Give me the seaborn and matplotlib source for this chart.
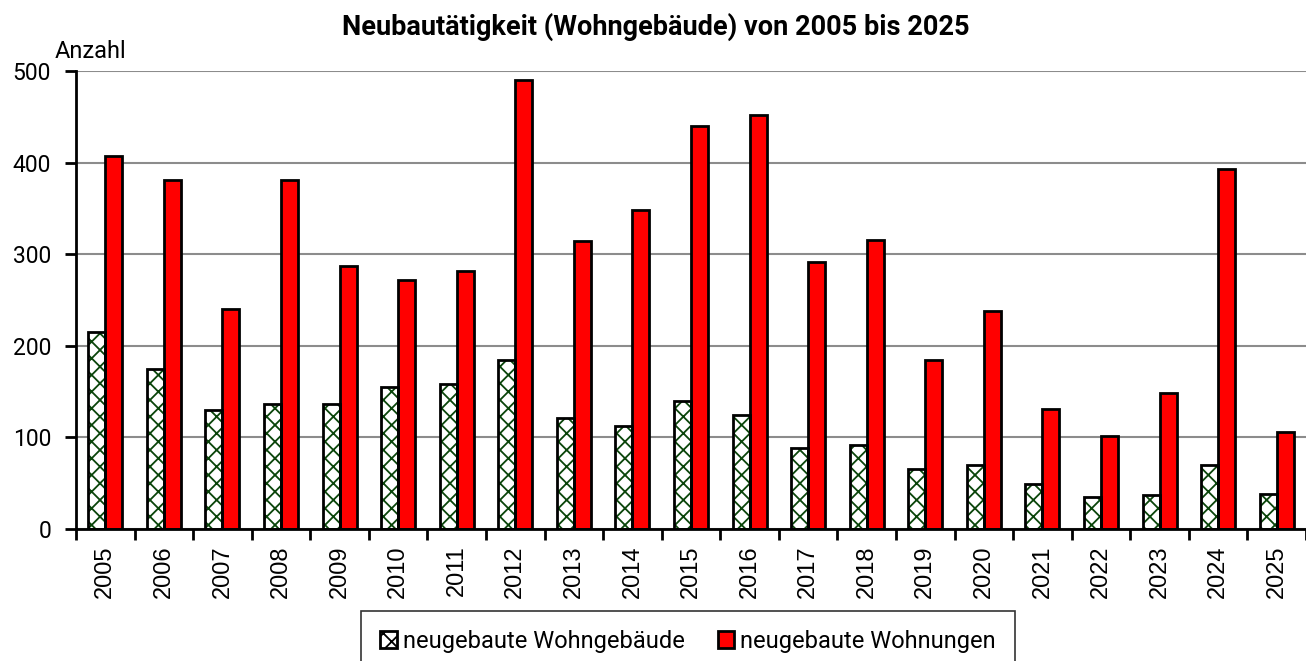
import numpy as np
import pandas as pd
import seaborn as sns
import matplotlib
matplotlib.use("Agg")
import matplotlib.pyplot as plt
from matplotlib.patches import Rectangle, Patch

years = [str(y) for y in range(2005, 2026)]
gebaeude = [215, 175, 130, 137, 137, 155, 158, 184, 121, 112, 140,
            124, 88, 92, 65, 70, 49, 35, 37, 70, 38]
wohnungen = [407, 381, 240, 381, 287, 272, 282, 490, 314, 348, 440,
             452, 291, 315, 184, 238, 131, 101, 148, 393, 106]
series = ["neugebaute Wohngebäude", "neugebaute Wohnungen"]

df = pd.DataFrame({
    "Jahr": years * 2,
    "Anzahl": gebaeude + wohnungen,
    "Serie": [series[0]] * len(years) + [series[1]] * len(years),
})

sns.set_theme(style="white")
plt.rcParams["font.family"] = ["Roboto", "DejaVu Sans"]
plt.rcParams["text.color"] = "black"
plt.rcParams["xtick.color"] = "black"
plt.rcParams["ytick.color"] = "black"
plt.rcParams["hatch.linewidth"] = 1.3

fig = plt.figure(figsize=(13.06, 6.61), dpi=100)
ax = fig.add_axes([76 / 1306, 1 - 529 / 661, 1 - 76 / 1306, (529 - 71) / 661])

sns.barplot(data=df, x="Jahr", y="Anzahl", hue="Serie", order=years,
            hue_order=series, palette=["white", "#ff0000"], saturation=1,
            width=0.58, edgecolor="black", linewidth=2, legend=False, ax=ax)

# hatched green bars: hatch in dark green, outline in black on top
for p in ax.containers[0]:
    p.set_edgecolor("#0a450a")
    p.set_linewidth(0)
    p.set_hatch("xx")
    ax.add_patch(Rectangle(p.get_xy(), p.get_width(), p.get_height(),
                           fill=False, edgecolor="black", linewidth=2, zorder=3))

ax.set_xlim(-0.5, len(years) - 0.5)
ax.set_ylim(0, 500)
ax.set_yticks([0, 100, 200, 300, 400, 500])
ax.yaxis.grid(True, color="#8c8c8c", linewidth=1.5)
ax.set_axisbelow(True)
for s in ["top", "right"]:
    ax.spines[s].set_visible(False)
for s in ["left", "bottom"]:
    ax.spines[s].set_color("black")
    ax.spines[s].set_linewidth(2)

ax.set_xticks(np.arange(-0.5, len(years), 1.0), minor=True)
ax.tick_params(axis="x", which="major", length=0, pad=12, labelsize=17,
               rotation=90)
ax.tick_params(axis="x", which="minor", length=8, width=2, color="black",
               direction="out", bottom=True)
ax.tick_params(axis="y", length=8, width=2, color="black", direction="out",
               left=True, labelsize=16.5, pad=10)
for lbl in ax.get_xticklabels():
    lbl.set_family(["Liberation Sans", "DejaVu Sans"])
ax.set_xlabel("")
ax.set_ylabel("")

fig.text(55 / 1306, 1 - 52 / 661, "Anzahl", fontsize=17, va="center", ha="left")
fig.text(656 / 1306, 1 - 27 / 661, "Neubautätigkeit (Wohngebäude) von 2005 bis 2025",
         fontsize=19.5, fontweight="bold", ha="center", va="center")

handles = [Patch(facecolor="white", edgecolor="black", hatch="xx", linewidth=2),
           Patch(facecolor="#ff0000", edgecolor="black", linewidth=2)]
leg = fig.legend(handles, series, ncol=2, loc="lower center",
                 bbox_to_anchor=(688 / 1306, -0.016), fontsize=17,
                 frameon=True, fancybox=False, edgecolor="black",
                 handlelength=0.7, handleheight=0.7, handletextpad=0.25,
                 columnspacing=1.4, borderpad=0.8, borderaxespad=0)
leg.get_frame().set_linewidth(1.2)

fig.savefig("out.png", dpi=100)
